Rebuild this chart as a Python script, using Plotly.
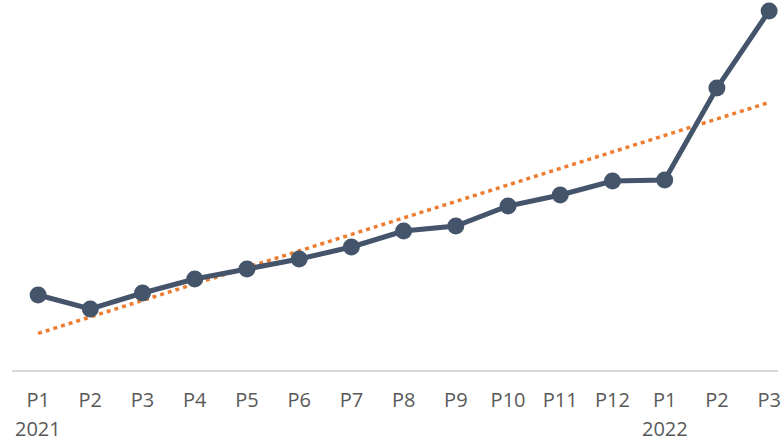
import numpy as np
import plotly.graph_objects as go

# Period labels and year markers
periods = ["P1", "P2", "P3", "P4", "P5", "P6", "P7", "P8", "P9", "P10", "P11", "P12", "P1", "P2", "P3"]
years = ["2021", "", "", "", "", "", "", "", "", "", "", "", "2022", "", ""]
values = [75, 61, 77, 91, 101, 111, 123, 139, 144, 164, 175, 189, 190, 282, 359]

x_idx = np.arange(len(values))

# Linear trend fitted to the series
slope, intercept = np.polyfit(x_idx, values, 1)
trend = slope * x_idx + intercept

fig = go.Figure()
fig.add_trace(go.Scatter(
    x=x_idx, y=trend, mode="lines",
    line=dict(color="#ED7D31", width=3.5, dash="4px,4px"),
    hoverinfo="skip", showlegend=False,
))
fig.add_trace(go.Scatter(
    x=x_idx, y=values, mode="lines+markers",
    line=dict(color="#44546A", width=5),
    marker=dict(color="#44546A", size=17),
    showlegend=False, cliponaxis=False,
))

# Year labels under the first period of each year
for i, yr in enumerate(years):
    if yr:
        fig.add_annotation(
            x=i, y=0, xref="x", yref="paper",
            text=yr, showarrow=False,
            yanchor="middle", yshift=-58,
            font=dict(family="Open Sans, sans-serif", size=20, color="#595959"),
        )

fig.update_layout(
    width=781, height=443,
    margin=dict(l=12, r=0, t=0, b=73),
    plot_bgcolor="white", paper_bgcolor="white",
    font=dict(family="Open Sans, sans-serif", size=20, color="#595959"),
    xaxis=dict(
        range=[-0.5, 14.17],
        tickmode="array", tickvals=x_idx, ticktext=periods,
        showgrid=False, zeroline=False,
        showline=True, linecolor="#D9D9D9", linewidth=2,
        ticks="", ticklen=0,
        ticklabelstandoff=11, ticklabeloverflow="allow",
    ),
    yaxis=dict(
        range=[0, 370], visible=False, showgrid=False, zeroline=False,
    ),
)

fig.write_html("out.html")
